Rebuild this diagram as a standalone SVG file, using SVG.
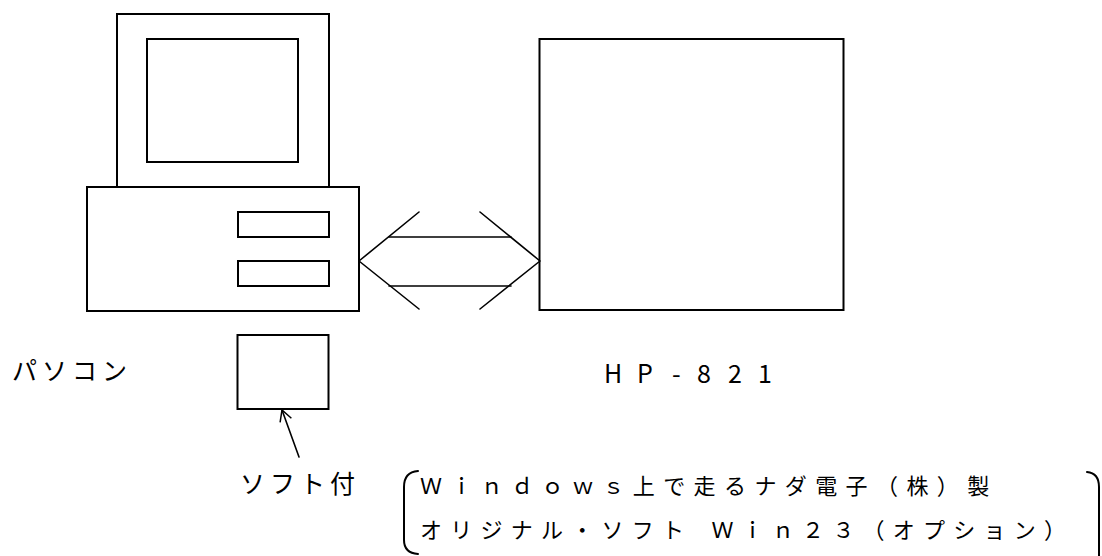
<svg xmlns="http://www.w3.org/2000/svg" width="1102" height="556" viewBox="0 0 1102 556">
  <style>
    .box { fill: none; stroke: #000; stroke-width: 2; }
    .wire { fill: none; stroke: #000; stroke-width: 1.6; stroke-linecap: round; stroke-linejoin: round; }
    .brace { fill: none; stroke: #000; stroke-width: 2; stroke-linecap: round; }
    .label { font-family: "Noto Sans CJK JP", "Noto Sans", sans-serif; fill: #000; }
    .lg { font-size: 25px; }
    .md { font-size: 22px; }
  </style>
  <defs>
    <marker id="openHead" markerWidth="14" markerHeight="14" refX="12" refY="7" orient="auto" markerUnits="userSpaceOnUse">
      <path d="M1,1 L12,7 L1,13" fill="none" stroke="#000" stroke-width="1.5"/>
    </marker>
  </defs>
  <rect width="1102" height="556" fill="#fff"/>

  <!-- personal computer: monitor, screen, base unit with two drive slots -->
  <g id="pc">
    <rect class="box" x="117" y="14" width="212" height="173"/>
    <rect class="box" x="147" y="39" width="151" height="123"/>
    <rect class="box" x="87" y="187" width="272" height="124"/>
    <rect class="box" x="238" y="212" width="91" height="25"/>
    <rect class="box" x="238" y="261" width="91" height="25"/>
  </g>

  <!-- HP-821 unit -->
  <g id="hp821">
    <rect class="box" x="539.5" y="39" width="304" height="271"/>
  </g>

  <!-- supplied software disk -->
  <g id="disk">
    <rect class="box" x="237.5" y="335" width="91" height="74"/>
  </g>

  <!-- connectors -->
  <g id="connectors">
    <!-- bidirectional link between PC and HP-821 -->
    <path class="wire" d="M419,212 L359,261 L419,309"/>
    <path class="wire" d="M480,212 L540,261 L480,309"/>
    <line class="wire" x1="389" y1="237" x2="511" y2="237"/>
    <line class="wire" x1="389" y1="286" x2="511" y2="286"/>
    <!-- pointer to the disk -->
    <line class="wire" x1="299" y1="457" x2="282" y2="410" marker-end="url(#openHead)"/>
  </g>

  <!-- labels -->
  <g id="labels">
    <text class="label lg" x="12" y="380" letter-spacing="5">パソコン</text>
    <text class="label lg" x="604" y="383" font-family="Noto Sans">
      <tspan x="604">H</tspan><tspan x="637">P</tspan><tspan x="672">-</tspan><tspan x="697">8</tspan><tspan x="728">2</tspan><tspan x="758">1</tspan>
    </text>
    <text class="label lg" x="240" y="493" letter-spacing="5">ソフト付</text>
  </g>

  <!-- note in brackets, set on a spaced character grid (~30px pitch) -->
  <g id="note">
    <path class="brace" d="M418,471 Q404,472 404,487 L404,540 Q404,553 418,554"/>
    <path class="brace" d="M1087,472 Q1099,473 1099,487 L1099,556"/>
    <text class="label md" y="494" x="420 450.4 480.8 511.2 541.6 572 602.4 632.8 663.2 693.6 724 754.4 784.8 815.2 845.6 876 906.4 936.8 967.2">Ｗｉｎｄｏｗｓ上で走るナダ電子（株）製</text>
    <text class="label md" y="538"><tspan x="420 450.2 480.5 510.7 541 571.2 601.4 631.7 661.9">オリジナル・ソフト</tspan><tspan x="711.4 741.6 771.9 802.1 832.4 862.6 892.8 923.1 953.3 983.6 1013.8 1044">Ｗｉｎ２３（オプション）</tspan></text>
  </g>
</svg>
